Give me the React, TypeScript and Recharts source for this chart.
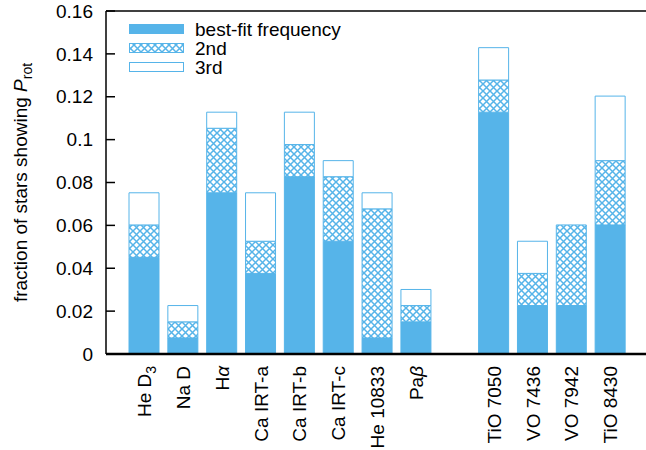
import React from "react";
import { BarChart, Bar, XAxis, YAxis } from "recharts";

// fractions of the 133-star sample
const lines = ["He D3", "Na D", "Hα", "Ca IRT-a", "Ca IRT-b", "Ca IRT-c", "He 10833", "Paβ", "", "TiO 7050", "VO 7436", "VO 7942", "TiO 8430"];
const bestFit = [0.0451, 0.0075, 0.0752, 0.0376, 0.0827, 0.0526, 0.0075, 0.015, 0, 0.1128, 0.0226, 0.0226, 0.0602];
const upTo2nd = [0.0602, 0.015, 0.1053, 0.0526, 0.0977, 0.0827, 0.0677, 0.0226, 0, 0.1278, 0.0376, 0.0602, 0.0902];
const upTo3rd = [0.0752, 0.0226, 0.1128, 0.0752, 0.1128, 0.0902, 0.0752, 0.0301, 0, 0.1429, 0.0526, 0.0602, 0.1203];
const yTicks = [0, 0.02, 0.04, 0.06, 0.08, 0.1, 0.12, 0.14, 0.16];

const BLUE = "#56B4E9";
const FONT = "'Liberation Sans', Arial, Helvetica, sans-serif";
const FS = 19;

const data = lines.map((name, i) => ({
  name,
  best: bestFit[i],
  second: +(upTo2nd[i] - bestFit[i]).toFixed(4),
  third: +(upTo3rd[i] - upTo2nd[i]).toFixed(4),
}));

function LineLabel({ x, y, payload }: any) {
  const v: string = payload.value;
  let body: React.ReactNode = v;
  if (v === "He D3") body = <>He D<tspan dy={5} fontSize={14}>3</tspan></>;
  else if (v === "Hα") body = <>H<tspan fontStyle="italic">α</tspan></>;
  else if (v === "Paβ") body = <>Pa<tspan fontStyle="italic">β</tspan></>;
  return (
    <g transform={`translate(${x},${y})`}>
      <text transform="rotate(-90)" textAnchor="end" dy="0.35em" fontSize={FS} fontFamily={FONT} fill="#000">
        {body}
      </text>
    </g>
  );
}

function YLabel({ viewBox }: any) {
  const cy = viewBox.y + viewBox.height / 2;
  return (
    <text transform={`translate(20,${cy}) rotate(-90)`} textAnchor="middle" dy="0.35em" fontSize={FS} fontFamily={FONT} fill="#000">
      fraction of stars showing <tspan fontStyle="italic">P</tspan>
      <tspan dy={5} fontSize={14}>rot</tspan>
    </text>
  );
}

function Hatch({ id }: { id: string }) {
  return (
    <pattern id={id} patternUnits="userSpaceOnUse" width={7} height={7}>
      <rect width={7} height={7} fill="#fff" />
      <path d="M0,0 L7,7 M7,0 L0,7" stroke={BLUE} strokeWidth={1.5} />
    </pattern>
  );
}

function KeyBox() {
  const rows = [
    { label: "best-fit frequency", fill: BLUE },
    { label: "2nd", fill: "url(#xhatchKey)" },
    { label: "3rd", fill: "#fff" },
  ];
  return (
    <svg width={240} height={70} style={{ position: "absolute", left: 120, top: 10 }}>
      <defs>
        <Hatch id="xhatchKey" />
      </defs>
      {rows.map((r, i) => (
        <g key={r.label}>
          <rect x={9.5} y={14.5 + i * 19} width={54} height={9} fill={r.fill} stroke={BLUE} strokeWidth={1} />
          <text x={75} y={26 + i * 19} fontSize={FS} fontFamily={FONT} fill="#000">
            {r.label}
          </text>
        </g>
      ))}
    </svg>
  );
}

export default function App() {
  return (
    <div style={{ position: "absolute", left: 0, top: 0, width: 646, height: 450, overflow: "hidden", background: "#fff" }}>
      <BarChart width={660} height={450} data={data} margin={{ top: 10, right: 10, bottom: 0, left: 0 }} barSize={30}>
        <defs>
          <Hatch id="xhatch" />
        </defs>
        <XAxis
          dataKey="name"
          interval={0}
          height={96}
          padding={{ left: 19, right: 19 }}
          tickLine={false}
          tickSize={0}
          tickMargin={12}
          tick={<LineLabel />}
          axisLine={{ stroke: "#000", strokeWidth: 2.5 }}
        />
        <XAxis
          xAxisId="top"
          orientation="top"
          dataKey="name"
          height={1}
          padding={{ left: 19, right: 19 }}
          tickLine={false}
          tick={() => <g />}
          axisLine={{ stroke: "#000", strokeWidth: 1.5 }}
        />
        <YAxis
          width={106}
          domain={[0, 0.16]}
          ticks={yTicks}
          interval={0}
          tickSize={-9}
          tickMargin={22}
          tickLine={{ stroke: "#000", strokeWidth: 1.5 }}
          axisLine={{ stroke: "#000", strokeWidth: 1.5 }}
          tick={{ fontSize: FS, fontFamily: FONT, fill: "#000" }}
          tickFormatter={(v: number) => String(v)}
          label={{ content: (p: any) => <YLabel viewBox={p.viewBox} /> }}
        />
        <YAxis
          yAxisId="right"
          orientation="right"
          width={1}
          domain={[0, 0.16]}
          ticks={yTicks}
          interval={0}
          tickSize={-9}
          tickLine={{ stroke: "#000", strokeWidth: 1.5 }}
          axisLine={{ stroke: "#000", strokeWidth: 1.5 }}
          tick={() => <g />}
        />
        <Bar dataKey="best" stackId="s" fill={BLUE} stroke={BLUE} strokeWidth={1} isAnimationActive={false} />
        <Bar dataKey="second" stackId="s" fill="url(#xhatch)" stroke={BLUE} strokeWidth={1} isAnimationActive={false} />
        <Bar dataKey="third" stackId="s" fill="#fff" stroke={BLUE} strokeWidth={1} isAnimationActive={false} />
      </BarChart>
      <KeyBox />
    </div>
  );
}
